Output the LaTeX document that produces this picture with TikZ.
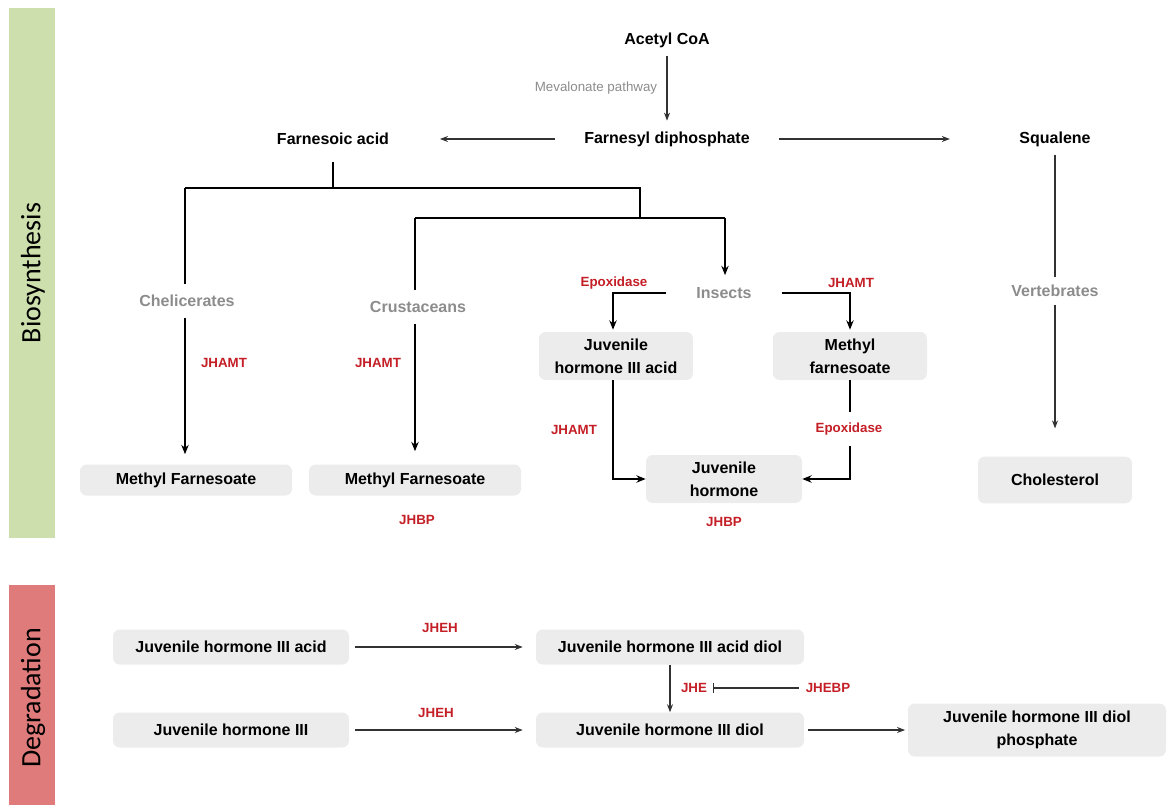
\documentclass[tikz,border=0pt]{standalone}
\usepackage{fontspec}
\setmainfont{Liberation Sans}
\newfontfamily\calib{Carlito}
\usetikzlibrary{arrows.meta}
\definecolor{boxgray}{RGB}{236,236,236}
\definecolor{enzred}{RGB}{196,30,38}
\definecolor{orggray}{RGB}{140,140,140}
\definecolor{sidegreen}{RGB}{205,223,172}
\definecolor{sidered}{RGB}{224,123,123}
\definecolor{arrgray}{RGB}{50,50,50}
\begin{document}
\begin{tikzpicture}[x=0.75pt,y=-0.75pt,
  lbl/.style={font=\bfseries\fontsize{12}{14}\selectfont, inner sep=0pt},
  mev/.style={font=\fontsize{10}{12}\selectfont, text=orggray, inner sep=0pt},
  enz/.style={font=\bfseries\fontsize{10}{12}\selectfont, text=enzred, inner sep=0pt},
  org/.style={font=\bfseries\fontsize{12}{14}\selectfont, text=orggray, inner sep=0pt, minimum height=24.75pt},
  box/.style={fill=boxgray, rounded corners=5pt, font=\bfseries\fontsize{12}{17}\selectfont, align=center, inner sep=0pt},
  tree/.style={line width=1.5pt, black},
  treearrow/.style={tree, -{Stealth[length=7pt,width=5.5pt]}},
  thin/.style={line width=0.8pt, arrgray, -{Stealth[length=6pt,width=4.5pt]}},
  side/.style={font=\calib\fontsize{21}{24}\selectfont, rotate=90}
]
\useasboundingbox (0,0) rectangle (1167,807);
% side bars
\fill[sidegreen] (9,8) rectangle (55,538);
\fill[sidered] (9,585) rectangle (55,805);
\node[side] (bio) at (33,273) {Biosynthesis};
\node[side] (deg) at (33,698) {Degradation};

% top
\node[lbl] (aco) at (667,40) {Acetyl CoA};
\node[mev] (mev) at (596,88) {Mevalonate pathway};
\node[lbl] (fdp) at (667,139) {Farnesyl diphosphate};
\node[lbl] (fa) at (333,139) {Farnesoic acid};
\node[lbl] (sq) at (1055,139) {Squalene};
\draw[thin, shorten <=6pt, shorten >=8pt] (aco) -- (fdp);
\draw[thin, shorten <=22pt, shorten >=38pt] (fdp.west) -- (fa.east);
\draw[thin, shorten <=22pt, shorten >=52pt] (fdp.east) -- (sq.west);

% vertebrates
\node[org, minimum height=20pt] (vert) at (1055,291) {Vertebrates};
\node[box, minimum width=115.5pt, minimum height=35pt] (chol) at (1055,480) {Cholesterol};
\draw[line width=0.8pt, arrgray, shorten <=6pt] (sq.south) -- (vert.north);
\draw[thin, shorten >=21pt] (vert.south) -- (chol.north);

% tree
\coordinate (b1) at (333,188);
\coordinate (bL) at (185,188);
\coordinate (bR) at (640,188);
\coordinate (b2) at (640,218);
\coordinate (cL) at (415,218);
\coordinate (cR) at (725,218);
\node[org] (chel) at (187,301) {Chelicerates};
\node[org] (crus) at (418,307) {Crustaceans};
\node[lbl, text=orggray, minimum width=86pt] (ins) at (724,293) {Insects};
\draw[tree, shorten <=13pt] (fa.south) -- (b1);
\draw[tree] (bL) -- (bR) -- (b2);
\draw[tree] (cL) -- (cR);
\draw[tree] (bL) -- (bL |- chel.north);
\draw[tree] (cL) -- (cL |- crus.north);
\draw[treearrow, shorten >=9pt] (cR) -- (cR |- ins.north);

\node[box, minimum width=159pt, minimum height=23.25pt] (mf1) at (186,480) {Methyl Farnesoate};
\node[box, minimum width=159pt, minimum height=23.25pt] (mf2) at (415,480) {Methyl Farnesoate};
\draw[treearrow, shorten >=7.5pt] (bL |- chel.south) -- (bL |- mf1.north);
\draw[treearrow, shorten >=9.75pt] (cL |- crus.south) -- (cL |- mf2.north);
\node[enz] (jh1) at (224,363) {JHAMT};
\node[enz] (jh2) at (378,363) {JHAMT};
\node[enz] (jhbp1) at (417,520) {JHBP};

% insects
\node[box, minimum width=115.5pt, minimum height=36pt] (jh3a) at (616,356) {Juvenile\\hormone III acid};
\node[box, minimum width=115.5pt, minimum height=36pt] (mfa) at (850,356) {Methyl\\farnesoate};
\node[box, minimum width=117pt, minimum height=36pt] (jh) at (724,479) {Juvenile\\hormone};
\node[enz] (epx1) at (614,283) {Epoxidase};
\node[enz] (jhamt3) at (851,283) {JHAMT};
\node[enz] (jhamt4) at (574,430) {JHAMT};
\node[enz, minimum height=25.5pt] (epx2) at (849,429) {Epoxidase};
\node[enz] (jhbp2) at (724,522) {JHBP};
\draw[treearrow, shorten >=1.5pt] (ins.west) -| ([xshift=-2.25pt]jh3a.north);
\draw[treearrow, shorten >=1.5pt] (ins.east) -| (mfa.north);
\draw[treearrow] ([xshift=-2.25pt]jh3a.south) |- (jh.west);
\draw[tree] (mfa.south) -- (mfa.south |- epx2.north);
\draw[treearrow] (mfa.south |- epx2.south) |- (jh.east);

% degradation
\node[box, minimum width=177pt, minimum height=26.25pt] (d1) at (231,647) {Juvenile hormone III acid};
\node[box, minimum width=201pt, minimum height=26.25pt] (d2) at (670,647) {Juvenile hormone III acid diol};
\node[box, minimum width=177pt, minimum height=26.25pt] (d3) at (231,730) {Juvenile hormone III};
\node[box, minimum width=201pt, minimum height=26.25pt] (d4) at (670,730) {Juvenile hormone III diol};
\node[box, minimum width=193.5pt, minimum height=39.75pt] (d5) at (1037,730) {Juvenile hormone III diol\\phosphate};
\node[enz] (jheh1) at (440,628) {JHEH};
\node[enz] (jheh2) at (436,713) {JHEH};
\node[enz] (jhe) at (694,688) {JHE};
\node[enz] (jhebp) at (828,688) {JHEBP};
\draw[thin, shorten <=4.5pt, shorten >=9.75pt] (d1.east) -- (d2.west);
\draw[thin, shorten <=4.5pt, shorten >=9.75pt] (d3.east) -- (d4.west);
\draw[thin] (d2.south) -- (d4.north);
\draw[line width=0.8pt, arrgray, -{Bar[width=8pt]}, shorten <=5pt, shorten >=4pt] (jhebp.west) -- (jhe.east);
\draw[thin, shorten <=3pt, shorten >=2pt] (d4.east) -- (d5.west);
\end{tikzpicture}
\end{document}
